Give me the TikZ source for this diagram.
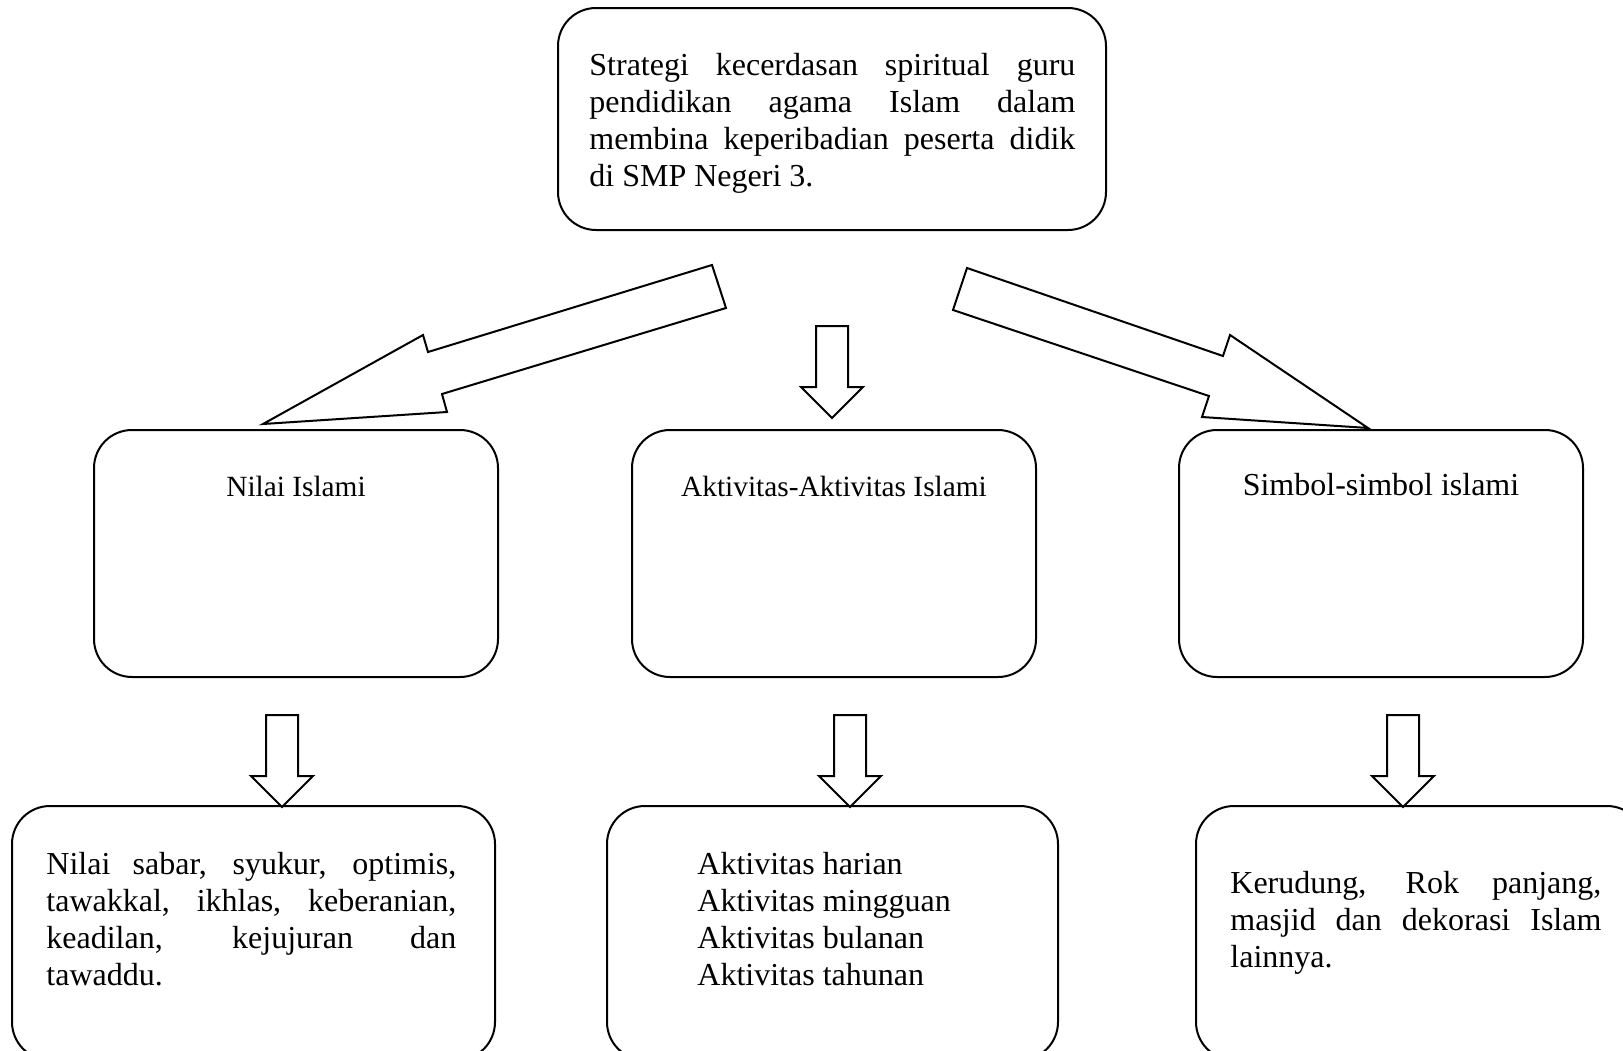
\documentclass[tikz,border=0pt]{standalone}
\usepackage{fontspec}
\setmainfont{Liberation Serif}

% panah blok kecil ke bawah, dari ujungnya
\newcommand{\panahbawah}[1]{\draw[panah] (#1) -- ++(-31,-31) -- ++(15,0) -- ++(0,-61) -- ++(32,0) -- ++(0,61) -- ++(15,0) -- cycle;}

\begin{document}
\begin{tikzpicture}[x=0.5pt,y=-0.5pt]
\tikzstyle{kotak}=[draw,line width=1pt,rounded corners=19pt,inner sep=0pt]
\tikzstyle{isi}=[font={\fontsize{16}{18.5}\selectfont\hyphenpenalty=10000 \tolerance=9999 },inner sep=0pt]
\tikzstyle{judul}=[font={\fontsize{14.67}{17}\selectfont},inner sep=0pt]
\tikzstyle{panah}=[draw,line width=1pt,line join=miter]
\useasboundingbox (0,0) rectangle (1623,1050);
\clip (0,0) rectangle (1623,1050);

\node[kotak,minimum width=274pt,minimum height=111pt](strategi) at (832,119) {};
\node[isi,anchor=north west,text width=243pt,align=justify](isistrategi) at (589,53)
 {Strategi kecerdasan spiritual guru\linebreak pendidikan agama Islam dalam\linebreak membina keperibadian peserta didik\linebreak di SMP Negeri 3.};

\node[kotak,minimum width=202pt,minimum height=123.5pt](nilai) at (296,553.5) {};
\node[kotak,minimum width=202pt,minimum height=123.5pt](aktivitas) at (834,553.5) {};
\node[kotak,minimum width=202pt,minimum height=123.5pt](simbol) at (1381,553.5) {};
\node[judul,anchor=base](judulnilai) at (296,496) {Nilai Islami};
\node[judul,anchor=base](judulaktivitas) at (834,496) {Aktivitas-Aktivitas Islami};
\node[isi,anchor=base](judulsimbol) at (1381,495) {Simbol-simbol islami};

\node[kotak,minimum width=241.5pt,minimum height=127pt](nilaiket) at (253.5,933) {};
\node[kotak,minimum width=225.5pt,minimum height=127pt](aktivitasket) at (832.5,933) {};
\node[kotak,minimum width=224.5pt,minimum height=127pt](simbolket) at (1420.5,933) {};
\node[isi,anchor=north west,text width=205pt,align=justify](isinilai) at (46,852)
 {Nilai sabar, syukur, optimis,\linebreak tawakkal, ikhlas, keberanian,\linebreak keadilan, kejujuran dan\linebreak tawaddu.};
\node[isi,anchor=north west,align=left](isiaktivitas) at (697,852)
 {Aktivitas harian\\Aktivitas mingguan\\Aktivitas bulanan\\Aktivitas tahunan};
\node[isi,anchor=north west,text width=185.5pt,align=justify](isisimbol) at (1230,871)
 {Kerudung, Rok panjang,\linebreak masjid dan dekorasi Islam\linebreak lainnya.};

% panah besar miring
\draw[panah] (712,265) -- (726,308) -- (442,394) -- (447,412) -- (263,424) -- (423,335) -- (428,352) -- cycle;
\draw[panah] (967,268) -- (1223,356) -- (1230,335) -- (1368,428) -- (1202,417) -- (1209,396) -- (953,310) -- cycle;

\coordinate (ujungtengah) at (832,418);
\coordinate (ujungnilai) at (282,807);
\coordinate (ujungaktivitas) at (850,807);
\coordinate (ujungsimbol) at (1403,807);
\panahbawah{ujungtengah}
\panahbawah{ujungnilai}
\panahbawah{ujungaktivitas}
\panahbawah{ujungsimbol}
\end{tikzpicture}
\end{document}
